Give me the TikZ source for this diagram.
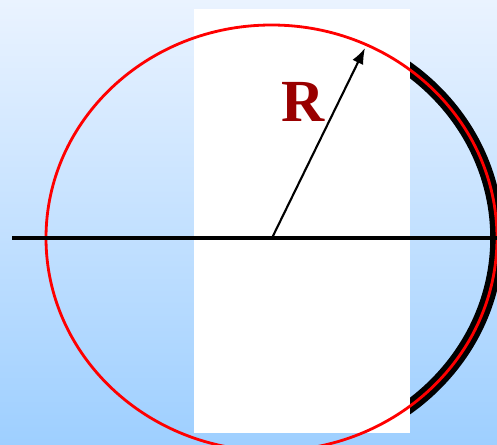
\documentclass[tikz,border=0pt]{standalone}
\usepackage{fontspec}
\setmainfont{Liberation Serif}
\usetikzlibrary{arrows.meta}
\definecolor{skytop}{HTML}{EAF3FF}
\definecolor{skybottom}{HTML}{9ECFFF}
\definecolor{rred}{HTML}{990000}
\begin{document}
\begin{tikzpicture}[x=0.02cm,y=-0.02cm,
  orbit/.style={red,line width=1.6pt},
  shell/.style={black,line width=0.27cm},
  axis/.style={black,line width=1.9pt},
  radius arrow/.style={black,line width=1.2pt,-{Latex[length=0.32cm,width=0.24cm]}},
  rlabel/.style={text=rred,font=\bfseries\fontsize{34}{40}\selectfont}]
  \useasboundingbox (0,0) rectangle (497,445);
  \shade[top color=skytop,bottom color=skybottom] (0,0) rectangle (497,445);
  \fill[white] (194,9) rectangle (410,433);
  \coordinate (C) at (271.5,238);
  \coordinate (O) at (272,238);
  \coordinate (tip) at (365,48);
  \coordinate (axisL) at (12,238);
  \coordinate (axisR) at (497,238);
  \begin{scope}
    \clip (410,0) rectangle (497,445);
    \draw[shell] (C) ellipse [x radius=225.5,y radius=213];
  \end{scope}
  \draw[orbit] (C) ellipse [x radius=225.5,y radius=213];
  \draw[axis] (axisL) -- (axisR);
  \draw[radius arrow] (O) -- (tip);
  \node[rlabel] (R) at (303,102) {R};
\end{tikzpicture}
\end{document}
